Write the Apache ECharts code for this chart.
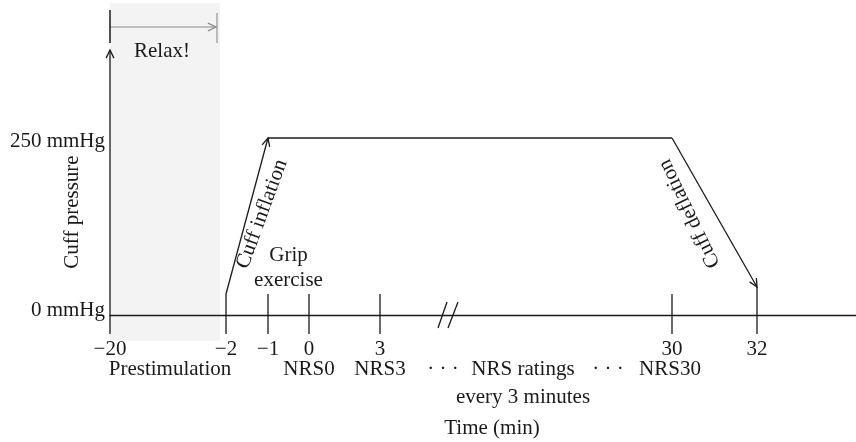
<!DOCTYPE html>
<html><head><meta charset="utf-8">
<script src="https://cdn.jsdelivr.net/npm/echarts@6/dist/echarts.min.js"></script>
<style>html,body{margin:0;padding:0;background:#fff}#c{width:856px;height:442px}</style>
</head><body><div id="c"></div>
<script>
// ---------------- data ----------------
const tickTimes = [-20, -2, -1, 0, 3, 30, 32];
const tickLabels = ['\u221220', '\u22122', '\u22121', '0', '3', '30', '32'];
const ratingTimes = [0, 3, 30];
const ratingLabels = ['NRS0', 'NRS3', 'NRS30'];
const pressureTimes = [-2, -1, 30, 32];
const pressureValues = [0, 250, 250, 0];
const pressureTicks = [0, 250];
const pressureTickLabels = ['0 mmHg', '250 mmHg'];
const prestimWindow = [-20, -2];
const gripWindow = [-1, 0];
const ratingWindow = [3, 30];

// ------------- broken (schematic) time axis -------------
const axisStopTimes = [-20, -2, -1, 0, 3, 30, 32];
const axisStopSlots = [0, 116, 158, 199, 270, 562, 647];
function slot(t) {
  const T = axisStopTimes, S = axisStopSlots, n = T.length;
  let k = 0;
  if (t <= T[0]) k = 0; else if (t >= T[n - 1]) k = n - 2;
  else { while (t > T[k + 1]) k++; }
  return S[k] + (t - T[k]) * (S[k + 1] - S[k]) / (T[k + 1] - T[k]);
}

const FONT = '"Liberation Serif", "Times New Roman", serif';
const FS = 21;
const INK = '#1a1a1a';
const TICK_UP = 21, TICK_DOWN = 19;

function txt(x, y, s, extra) {
  return Object.assign({
    type: 'text', x: x, y: y,
    style: { text: s, x: 0, y: 0, align: 'center', verticalAlign: 'middle',
      fill: INK, font: FS + 'px ' + FONT }
  }, extra || {});
}
function seg(x1, y1, x2, y2, color, w) {
  return { type: 'line', shape: { x1, y1, x2, y2 },
    style: { stroke: color || INK, lineWidth: w || 1.3 } };
}
function chevron(tx, ty, fx, fy, color) {
  const a = Math.atan2(ty - fy, tx - fx), len = 9, sp = 0.45;
  return { type: 'polyline', shape: { points: [
      [tx - len * Math.cos(a - sp), ty - len * Math.sin(a - sp)], [tx, ty],
      [tx - len * Math.cos(a + sp), ty - len * Math.sin(a + sp)]] },
    style: { stroke: color || INK, lineWidth: 1.3, fill: null } };
}

const chart = echarts.init(document.getElementById('c'), null, { renderer: 'canvas' });

const option = {
  animation: false,
  backgroundColor: '#fff',
  grid: { left: 110, right: 0, top: 138, bottom: 127 },
  xAxis: {
    type: 'value', min: 0, max: 746, z: 5,
    axisLine: { show: true, onZero: true, lineStyle: { color: INK, width: 1.3 } },
    axisTick: { show: false }, axisLabel: { show: false }, splitLine: { show: false }
  },
  yAxis: {
    type: 'value', min: 0, max: 250, show: false, splitLine: { show: false }
  },
  series: [
    // background band + relax arrow + y axis + annotations
    {
      type: 'custom', z: 1, silent: true,
      data: [[slot(prestimWindow[0]), slot(prestimWindow[1])]],
      renderItem: function (params, api) {
        const xa = api.coord([api.value(0), 0])[0];
        const xb = api.coord([api.value(1), 0])[0];
        const y0 = api.coord([0, 0])[1];
        const yTop = api.coord([0, 250])[1];
        const bandR = xb - 6;
        const kids = [];
        kids.push({ type: 'rect', shape: { x: xa, y: 3, width: bandR - xa, height: y0 + 25.5 - 3 },
          style: { fill: '#f2f3f2' } });
        // relax arrow
        const ry = 27, re = bandR - 3;
        kids.push(seg(xa, ry, re, ry, '#8a8a8a', 1.2));
        kids.push(chevron(re - 1, ry, xa, ry, '#8a8a8a'));
        kids.push(seg(re, 13, re, 43, '#9a9a9a', 1.3));
        kids.push(seg(xa, 10, xa, 43, INK, 1.5));
        kids.push(txt((xa + bandR) / 2 - 3, 51, 'Relax!'));
        // y axis with arrow
        const yArrow = yTop - 88;
        kids.push(seg(xa, y0 + TICK_DOWN, xa, yArrow, INK, 1.3));
        kids.push(chevron(xa, yArrow, xa, yArrow + 20));
        kids.push(txt(72, 212, 'Cuff pressure', { rotation: Math.PI / 2 }));
        // prestimulation label
        const xm = api.coord([slot((prestimWindow[0] + prestimWindow[1]) / 2), 0])[0];
        kids.push(txt(xm + 2, y0 + 54, 'Prestimulation'));
        // grip exercise
        const xg = api.coord([slot((gripWindow[0] + gripWindow[1]) / 2), 0])[0];
        kids.push(txt(xg, 255, 'Grip'));
        kids.push(txt(xg, 280, 'exercise'));
        // NRS ratings every 3 minutes
        const xr = (api.coord([slot(ratingWindow[0]), 0])[0] + api.coord([slot(ratingWindow[1]), 0])[0]) / 2;
        kids.push(txt(xr - 83, y0 + 54, '\u00b7 \u00b7 \u00b7'));
        kids.push(txt(xr - 3, y0 + 54, 'NRS ratings'));
        kids.push(txt(xr + 82, y0 + 54, '\u00b7 \u00b7 \u00b7'));
        kids.push(txt(xr - 3, y0 + 82, 'every 3 minutes'));
        kids.push(txt(492, y0 + 113, 'Time (min)'));
        // axis break mark
        const xbk = api.coord([slot(ratingWindow[0]), 0])[0] + 70;
        kids.push(seg(xbk - 12, y0 + 13, xbk - 3, y0 - 13, INK, 1.3));
        kids.push(seg(xbk - 2, y0 + 13, xbk + 8, y0 - 13, INK, 1.3));
        return { type: 'group', children: kids };
      }
    },
    // time ticks + labels
    {
      type: 'custom', z: 3, silent: true,
      data: tickTimes.map((t, i) => [slot(t), 0, i]),
      renderItem: function (params, api) {
        const i = api.value(2);
        const p = api.coord([api.value(0), 0]);
        const kids = [];
        if (tickTimes[i] !== tickTimes[0]) {
          const isEnd = tickTimes[i] === pressureTimes[pressureTimes.length - 1];
          kids.push(seg(p[0], p[1] + TICK_DOWN, p[0], p[1] - (isEnd ? 28 : TICK_UP)));
        }
        kids.push(txt(p[0], p[1] + 34.5, tickLabels[i]));
        return { type: 'group', children: kids };
      }
    },
    // NRS rating labels
    {
      type: 'custom', z: 3, silent: true,
      data: ratingTimes.map((t, i) => [slot(t), 0, i]),
      renderItem: function (params, api) {
        const i = api.value(2);
        const p = api.coord([api.value(0), 0]);
        return txt(p[0] - (i === 2 ? 2 : 0), p[1] + 54, ratingLabels[i]);
      }
    },
    // pressure labels
    {
      type: 'custom', z: 3, silent: true,
      data: pressureTicks.map((v, i) => [0, v, i]),
      renderItem: function (params, api) {
        const i = api.value(2);
        const p = api.coord([0, api.value(1)]);
        const dy = api.value(1) === 0 ? -5 : 3;
        const t = txt(p[0] - 5, p[1] + dy, pressureTickLabels[i]);
        t.style.align = 'right';
        return t;
      }
    },
    // cuff pressure profile
    {
      type: 'custom', z: 4, silent: true,
      data: pressureTimes.map((t, i) => [slot(t), pressureValues[i], i]),
      renderItem: function (params, api) {
        const i = api.value(2);
        if (i === 0) return { type: 'group', children: [] };
        const y0 = api.coord([0, 0])[1];
        const p0 = api.coord([slot(pressureTimes[i - 1]), pressureValues[i - 1]]);
        const p1 = api.coord([api.value(0), api.value(1)]);
        if (pressureValues[i - 1] === 0) p0[1] = y0 - TICK_UP;
        if (pressureValues[i] === 0) p1[1] = y0 - 28;
        const kids = [seg(p0[0], p0[1], p1[0], p1[1])];
        if (pressureValues[i] !== pressureValues[i - 1]) {
          kids.push(chevron(p1[0], p1[1], p0[0], p0[1]));
          const mx = (p0[0] + p1[0]) / 2, my = (p0[1] + p1[1]) / 2;
          if (pressureValues[i] > pressureValues[i - 1]) {
            kids.push(txt(mx + 15, my - 2, 'Cuff inflation', { rotation: 1.22 }));
          } else {
            kids.push(txt(mx - 25, my + 1, 'Cuff deflation', { rotation: 2.02 }));
          }
        }
        return { type: 'group', children: kids };
      }
    }
  ]
};
chart.setOption(option);
</script>
</body></html>
